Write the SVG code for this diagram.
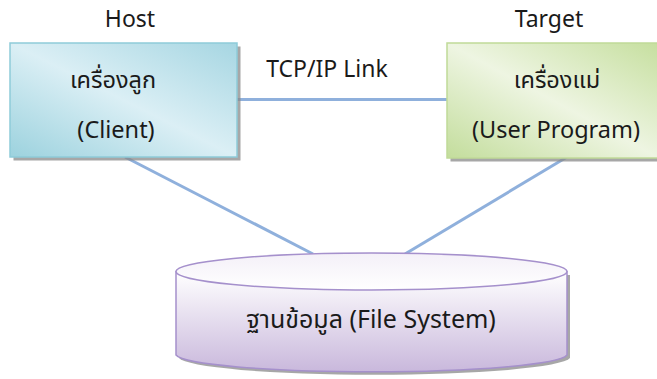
<svg xmlns="http://www.w3.org/2000/svg" width="657" height="379" viewBox="0 0 657 379">
  <defs>
    <linearGradient id="gradHost" x1="0" y1="1" x2="1" y2="0">
      <stop offset="0" stop-color="#9cd2de"/>
      <stop offset="0.5" stop-color="#dbeff5"/>
      <stop offset="1" stop-color="#a6d6e2"/>
    </linearGradient>
    <linearGradient id="gradTarget" x1="0" y1="1" x2="1" y2="0">
      <stop offset="0" stop-color="#c3dd9c"/>
      <stop offset="0.5" stop-color="#eef5e2"/>
      <stop offset="1" stop-color="#c6df9f"/>
    </linearGradient>
    <linearGradient id="gradDb" x1="0" y1="0" x2="0" y2="1">
      <stop offset="0" stop-color="#ffffff"/>
      <stop offset="1" stop-color="#c9b8dc"/>
    </linearGradient>
    <linearGradient id="gradDbTop" x1="0" y1="0" x2="0" y2="1">
      <stop offset="0" stop-color="#f4f0f8"/>
      <stop offset="1" stop-color="#ffffff"/>
    </linearGradient>
  </defs>
  <style>
    text { font-family: "Noto Sans", "Noto Sans Thai", "DejaVu Sans", sans-serif; fill: #1a1a1a; text-anchor: middle; }
    .lbl { font-size: 23px; }
    .big { font-size: 23.5px; }
    .db { font-size: 25px; }
    .shadow { fill: #8a8a8a; opacity: 0.75; }
    .link { stroke: #8fb0dc; stroke-width: 3; fill: none; }
  </style>

  <rect width="657" height="379" fill="#ffffff"/>

  <g id="connectors">
    <line class="link" x1="237" y1="99.5" x2="447" y2="99.5"/>
    <line class="link" x1="125" y1="157" x2="313" y2="254"/>
    <line class="link" x1="567" y1="157" x2="405" y2="254"/>
  </g>
  <text class="lbl" x="327" y="77">TCP/IP Link</text>

  <g id="host">
    <text class="lbl" x="130" y="27">Host</text>
    <rect class="shadow" x="13.5" y="46.5" width="227" height="114"/>
    <rect x="10" y="43" width="227" height="114" fill="url(#gradHost)" stroke="#8ecbd9" stroke-width="1.5"/>
    <text class="big" x="113" y="88">เครื่องลูก</text>
    <text class="big" x="116" y="138">(Client)</text>
  </g>

  <g id="target">
    <text class="lbl" x="549" y="27">Target</text>
    <rect class="shadow" x="450.5" y="46.5" width="210" height="115"/>
    <rect x="447" y="43" width="212" height="115" fill="url(#gradTarget)" stroke="#c0da98" stroke-width="1.5"/>
    <text class="big" x="557" y="88">เครื่องแม่</text>
    <text class="big" x="556" y="138">(User Program)</text>
  </g>

  <g id="filesystem">
    <path class="shadow" d="M179,275 L179,358 A196,18 0 0 0 570,358 L570,275 Z"/>
    <path d="M176,271.5 L176,355 A196,18 0 0 0 567,355 L567,271.5 Z" fill="url(#gradDb)" stroke="#a590cc" stroke-width="1.5"/>
    <ellipse cx="371.5" cy="271.5" rx="195.5" ry="18.5" fill="url(#gradDbTop)" stroke="#a590cc" stroke-width="1.5"/>
    <text class="db" x="371" y="328">ฐานข้อมูล (File System)</text>
  </g>
</svg>
